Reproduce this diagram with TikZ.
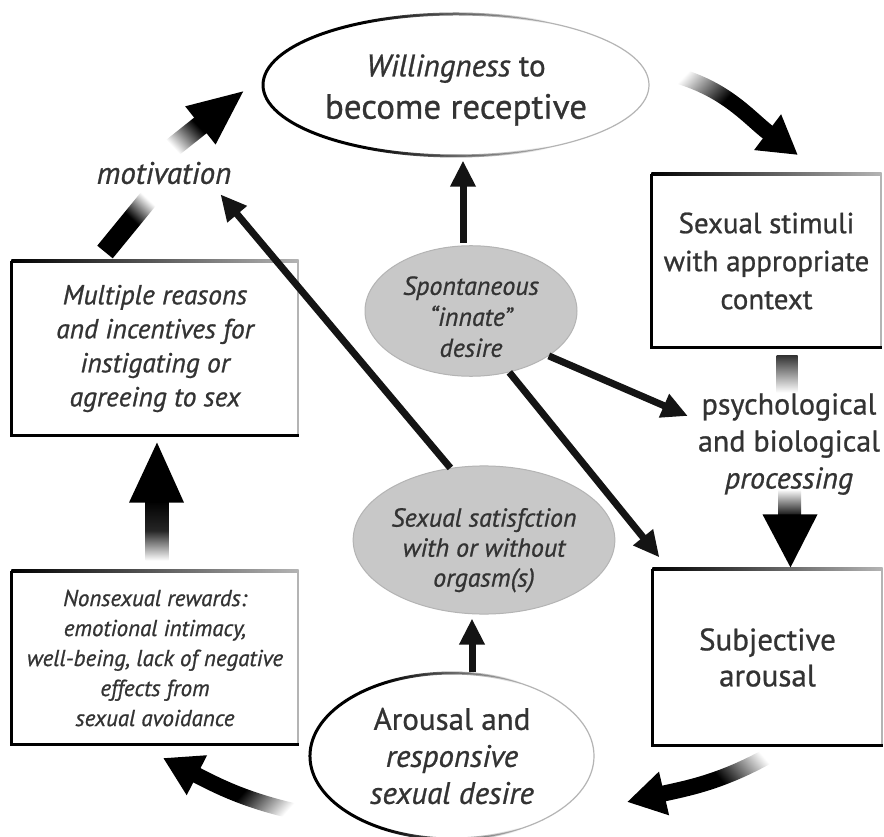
\documentclass[tikz,border=0pt]{standalone}
\usepackage{fontspec}
\setmainfont{PT Sans}[RawFeature={embolden=0.8}]
\usetikzlibrary{arrows.meta,shapes.geometric,fadings,calc}
\definecolor{txt}{HTML}{333333}
\definecolor{fillg}{HTML}{C8C8C8}
\definecolor{edgeg}{HTML}{B4B4B4}
\pgfdeclarehorizontalshading{tailfadeshade}{100bp}{color(0bp)=(black); color(27bp)=(black); color(45bp)=(white); color(100bp)=(white)}
\pgfdeclarefading{tailfade}{\pgfuseshading{tailfadeshade}}
\pgfdeclarehorizontalshading{edgefadeshade}{100bp}{color(0bp)=(white); color(38bp)=(white); color(62bp)=(black); color(100bp)=(black)}
\pgfdeclarefading{edgefade}{\pgfuseshading{edgefadeshade}}
\newcommand{\fs}[2]{\fontsize{#1}{#2}\selectfont}
\tikzset{
  lbl/.style={text=txt, align=center, inner sep=0pt},
  bigell/.style={ellipse, draw=edgeg, line width=1.2pt, inner sep=0pt, text=txt, align=center},
  grayell/.style={ellipse, fill=fillg, draw=edgeg, line width=1pt, inner sep=0pt, text=txt, align=center},
  box/.style={rectangle, draw=edgeg, line width=1.2pt, inner sep=0pt, text=txt, align=center},
  thinarr/.style={line width=7pt, -{Triangle[length=26pt,width=24pt]}, black!92},
  bigarr/.style={line width=16pt, -{Triangle[length=38pt,width=42pt]}, black},
}
\begin{document}
\begin{tikzpicture}[x=1pt,y=-1pt]
\useasboundingbox (0,0) rectangle (884,837);
\fill[white] (0,0) rectangle (884,837);
% nodes
\node[bigell, minimum width=386pt, minimum height=142pt] (will) at (456,85) {\fs{31}{46}\rule{0pt}{32pt}\textit{Willingness} to\\[10pt]\fs{35}{46}become receptive};
\node[box, minimum width=229pt, minimum height=172pt, font=\fs{29}{38}] (stim) at (766.5,261) {Sexual stimuli\\with appropriate\\context};
\node[lbl, font=\fs{30}{37}] (proc) at (789,444) {psychological\\and biological\\\textit{processing}};
\node[box, minimum width=229pt, minimum height=175pt, font=\fs{31}{36}] (subj) at (767.5,657.5) {Subjective\\arousal};
\node[bigell, minimum width=284pt, minimum height=166pt, font=\fs{31}{37}] (arous) at (452,756) {Arousal and\\\textit{responsive}\\\textit{sexual desire}};
\node[grayell, minimum width=212pt, minimum height=140pt, font=\itshape\fs{26}{30}] (satis) at (484,540) {\rule{0pt}{39pt}Sexual satisfction\\with or without\\orgasm(s)};
\node[grayell, minimum width=212pt, minimum height=122pt, font=\itshape\fs{26}{31}] (spont) at (471,311) {\rule{0pt}{30pt}Spontaneous\\“innate”\\desire};
\node[box, minimum width=286pt, minimum height=173pt, font=\itshape\fs{27.5}{34}] (multi) at (155,348.5) {Multiple reasons\\and incentives for\\instigating or\\agreeing to sex};
\node[box, minimum width=286pt, minimum height=172pt, font=\itshape\fs{23}{30}] (nons) at (155,658) {Nonsexual rewards:\\emotional intimacy,\\well-being, lack of negative\\effects from\\sexual avoidance};
\node[lbl, font=\itshape\fs{31}{32}] (mot) at (164,173) {motivation};
% dark outline parts
\draw[line width=3pt, path fading=edgefade] (will.center) ellipse [x radius=193, y radius=71];
\draw[line width=3pt, path fading=edgefade] (arous.center) ellipse [x radius=142, y radius=83];
\foreach \b in {stim,subj,multi,nons}{
  \draw[black, line width=3pt] (\b.north west) -- (\b.south west) -- (\b.south east);
  \shade[left color=black, right color=edgeg] ([yshift=1.5pt]\b.north west) rectangle ([yshift=-1.5pt]\b.north east);
}
% big curved arrows
\coordinate (wS) at (663,72); \coordinate (sT) at (798,155);
\draw[bigarr, path fading=tailfade, fading angle=-32] (wS) to[out=-12, in=143] (sT);
\coordinate (sbS) at (775,752); \coordinate (aT) at (627,802);
\draw[bigarr, path fading=tailfade, fading angle=199] (sbS) to[out=210, in=13] (aT);
\coordinate (aS) at (302,813); \coordinate (nT) at (163,758);
\draw[bigarr, path fading=tailfade, fading angle=158] (aS) to[out=168, in=-27] (nT);
\coordinate (mS) at (167,152); \coordinate (wT) at (245,90);
\draw[line width=20pt, -{Triangle[length=57pt,width=44pt]}, path fading=tailfade, fading angle=38.5] (mS) -- (wT);
\coordinate (mL1) at (105,252); \coordinate (mL2) at (150,197);
\draw[line width=20pt, path fading=tailfade, fading angle=230.7] (mL2) -- (mL1);
% vertical gradient arrows
\coordinate (nmT) at ($(multi.south)+(2,7)$);
\shade[top color=black, bottom color=white, middle color=black!85] ($(nmT)+(-11.5,58)$) rectangle ($(nmT)+(11.5,118)$);
\fill[black] ($(nmT)+(-28,60)$) -- (nmT) -- ($(nmT)+(27,60)$) -- cycle;
\shade[top color=black!80, bottom color=white] ($(stim.south)+(10,8)$) rectangle ($(stim.south)+(31,45)$);
\coordinate (psT) at ($(subj.north)+(23,-2)$);
\shade[top color=white, bottom color=black] ($(psT)+(-12.5,-78)$) rectangle ($(psT)+(10.5,-50)$);
\fill[black] ($(psT)+(-28,-53)$) -- (psT) -- ($(psT)+(27,-53)$) -- cycle;
% thin arrows
\draw[thinarr] ($(spont.north)+(-8,-2)$) -- ($(will.south)+(7,4)$);
\draw[thinarr] (spont.-30) -- ($(proc.west)+(-10,-28)$);
\draw[thinarr] (spont.-58) -- ($(subj.north west)+(7,-12)$);
\draw[thinarr] (satis.115) -- ($(mot.south east)+(-11,10)$);
\draw[thinarr] ($(arous.north)+(20,0)$) -- ($(satis.south)+(-12,4)$);
\end{tikzpicture}
\end{document}
